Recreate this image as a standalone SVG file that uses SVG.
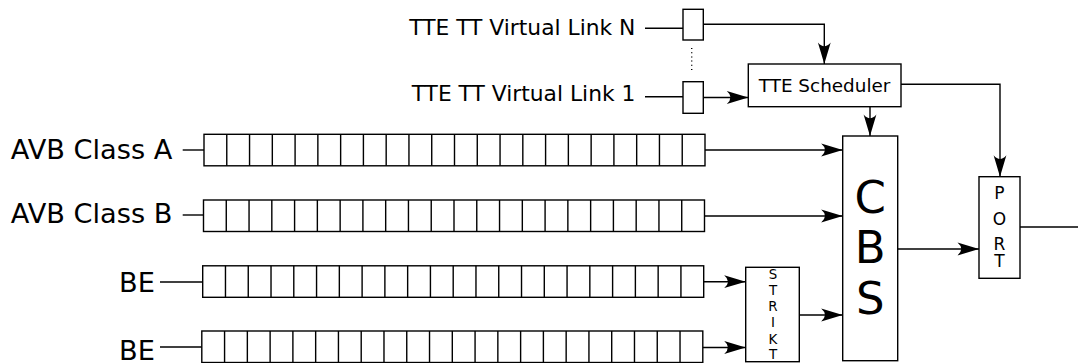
<svg xmlns="http://www.w3.org/2000/svg" xmlns:xlink="http://www.w3.org/1999/xlink" width="1078" height="363" viewBox="0 0 1078 363">
<style>
.box{fill:#fff;stroke:#000;stroke-width:1.4}
.ln{fill:none;stroke:#000;stroke-width:1.4}
.arr{fill:none;stroke:#000;stroke-width:1.4;marker-end:url(#ah)}
.lbl{font-family:"DejaVu Sans","Liberation Sans",sans-serif;fill:#000}
.big{font-size:27.2px}
.tte{font-size:21.8px}
.mid{text-anchor:middle}
.sch{font-size:18.4px}
.cbs{font-size:45px}
.prt{font-size:17px}
.stk{font-size:13.4px}
</style>
<defs>
<marker id="ah" markerUnits="userSpaceOnUse" viewBox="-22 -7 23 14" markerWidth="23" markerHeight="14" refX="0" refY="0" orient="auto" overflow="visible">
<path d="M0,0 L-21.5,-6.4 Q-14,0 -21.5,6.4 Z" fill="#000"/>
</marker>
<g id="queue">
<rect class="box" x="0" y="0" width="501" height="31.5"/>
<path class="ln" d="M22.77,0v31.5M45.55,0v31.5M68.32,0v31.5M91.09,0v31.5M113.86,0v31.5M136.64,0v31.5M159.41,0v31.5M182.18,0v31.5M204.95,0v31.5M227.73,0v31.5M250.5,0v31.5M273.27,0v31.5M296.05,0v31.5M318.82,0v31.5M341.59,0v31.5M364.36,0v31.5M387.14,0v31.5M409.91,0v31.5M432.68,0v31.5M455.45,0v31.5M478.23,0v31.5"/>
</g>
</defs>
<rect width="1078" height="363" fill="#fff"/>

<g id="connectors">
<path class="ln" d="M645,28.3H683"/>
<path class="ln" d="M645,96.7H683"/>
<path class="ln" d="M691.7,48V70" stroke-dasharray="1,3.2"/>
<path class="arr" d="M703,24.3H824.3V64"/>
<path class="arr" d="M703,97.5H748.3"/>
<path class="arr" d="M870,106.7V136"/>
<path class="arr" d="M901,84.3H1000V176.7"/>
<path class="ln" d="M182.7,150H204"/>
<path class="ln" d="M182.7,215H203.5"/>
<path class="ln" d="M160,282H202.7"/>
<path class="ln" d="M160,347H201.8"/>
<path class="arr" d="M705,150H842.7"/>
<path class="arr" d="M704.5,216H842.7"/>
<path class="arr" d="M703.7,281.7H745.7"/>
<path class="arr" d="M702.8,347.5H745.7"/>
<path class="arr" d="M799.3,315H842.7"/>
<path class="arr" d="M897.7,249H979"/>
<path class="ln" d="M1020,227H1078"/>
</g>

<g id="label-vl-n"><text class="lbl tte" x="635.4" y="35" text-anchor="end">TTE TT Virtual Link N</text></g>
<g id="label-vl-1"><text class="lbl tte" x="635.4" y="101" text-anchor="end">TTE TT Virtual Link 1</text></g>
<g id="vl-n-buffer"><rect class="box" x="683" y="9.3" width="20.3" height="30.7"/></g>
<g id="vl-1-buffer"><rect class="box" x="683" y="81.7" width="20.3" height="31.6"/></g>
<g id="tte-scheduler">
<rect class="box" x="748.3" y="64" width="152.7" height="42.7"/>
<text class="lbl mid sch" x="824.6" y="91.7">TTE Scheduler</text>
</g>

<g id="avb-a">
<text class="lbl big" x="10.8" y="159">AVB Class A</text>
<use xlink:href="#queue" x="204" y="134.3"/>
</g>
<g id="avb-b">
<text class="lbl big" x="10.8" y="223.3">AVB Class B</text>
<use xlink:href="#queue" x="203.5" y="200"/>
</g>
<g id="be-1">
<text class="lbl big" x="119" y="291.7">BE</text>
<use xlink:href="#queue" x="202.7" y="265.8"/>
</g>
<g id="be-2">
<text class="lbl big" x="119" y="359.5">BE</text>
<use xlink:href="#queue" x="201.8" y="331"/>
</g>

<g id="strikt">
<rect class="box" x="745.7" y="267.3" width="53.6" height="94.4"/>
<text class="lbl mid stk" x="773" y="279.3">S</text>
<text class="lbl mid stk" x="773" y="295">T</text>
<text class="lbl mid stk" x="773" y="311">R</text>
<text class="lbl mid stk" x="773" y="327">I</text>
<text class="lbl mid stk" x="773" y="343.5">K</text>
<text class="lbl mid stk" x="773" y="359.3">T</text>
</g>

<g id="cbs">
<rect class="box" x="842.7" y="136" width="55" height="224.7"/>
<text class="lbl mid cbs" x="870.2" y="213">C</text>
<text class="lbl mid cbs" x="870.2" y="263">B</text>
<text class="lbl mid cbs" x="870.2" y="313.5">S</text>
</g>

<g id="port">
<rect class="box" x="979" y="176.7" width="41" height="101.6"/>
<text class="lbl mid prt" x="999.5" y="198.6">P</text>
<text class="lbl mid prt" x="999.5" y="225">O</text>
<text class="lbl mid prt" x="999.5" y="250">R</text>
<text class="lbl mid prt" x="999.5" y="267">T</text>
</g>
</svg>
